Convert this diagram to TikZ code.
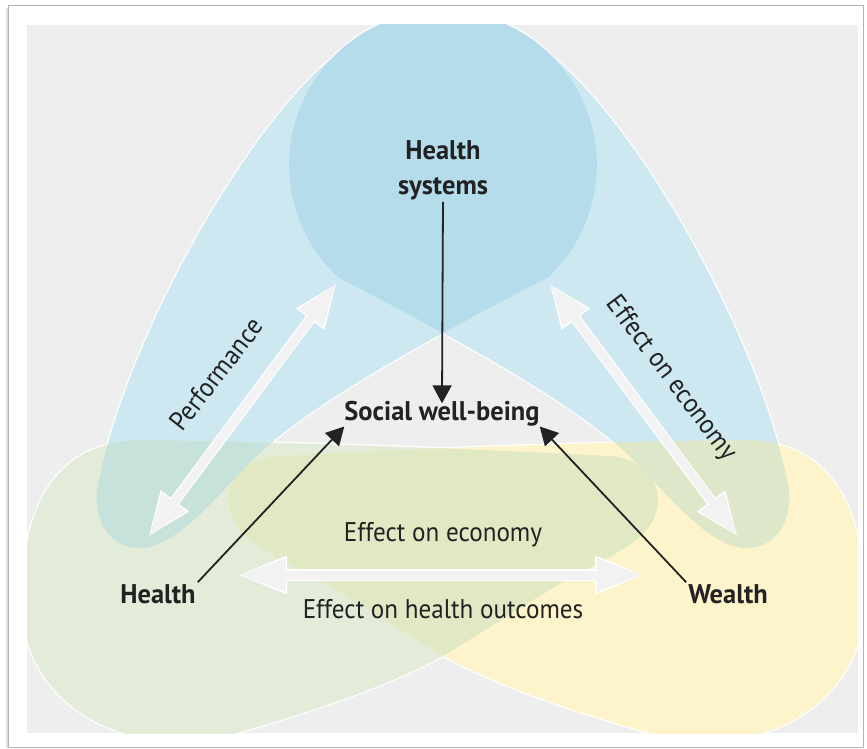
\documentclass[tikz,border=0pt]{standalone}
\usepackage{fontspec}
\setmainfont{PT Sans}
\newfontfamily\lblreg{PT Sans}[FakeStretch=0.93]
\newfontfamily\lblbold{PT Sans}[FakeStretch=0.98]
\usetikzlibrary{arrows.meta}

\definecolor{panelgrey}{HTML}{EEEEEE}
\definecolor{framegrey}{HTML}{B4B4B4}
\definecolor{bluelight}{HTML}{CDE8F1}
\definecolor{bluedark}{HTML}{B4DCEA}
\definecolor{greenlight}{HTML}{E3ECD9}
\definecolor{yellowlight}{HTML}{FEF4CC}
\definecolor{olivemix}{HTML}{E1E9C4}
\definecolor{tealmix}{HTML}{C6E2DB}
\definecolor{bluyellow}{HTML}{DEE7C9}
\definecolor{arrowfill}{HTML}{F3F2F2}
\definecolor{ink}{HTML}{222222}

\newcommand\lblsize{\fontsize{27}{35}\selectfont}

% the two arms of the health-systems shape
\def\armL{(140,548) .. controls (110,548) and (94,522) .. (97,490)
  .. controls (125,340) and (245,130) .. (333,57)
  arc[start angle=224.5, end angle=406.6, radius=154]
  .. controls (470,318) and (330,390) .. (263,450)
  .. controls (225,485) and (180,548) .. (140,548) -- cycle}
\def\armR{(746,548) .. controls (776,548) and (792,522) .. (789,490)
  .. controls (761,340) and (641,130) .. (553,57)
  arc[start angle=315.5, end angle=133.4, radius=154]
  .. controls (416,318) and (556,390) .. (623,450)
  .. controls (661,485) and (706,548) .. (746,548) -- cycle}
% health and wealth blobs
\def\healthblob{(22,600) .. controls (22,500) and (60,442) .. (140,440)
  .. controls (300,442) and (500,450) .. (608,456)
  .. controls (650,458) and (665,490) .. (655,515)
  .. controls (645,545) and (600,560) .. (553,588)
  .. controls (500,620) and (470,640) .. (443,656)
  .. controls (380,690) and (300,715) .. (230,735)
  .. controls (150,760) and (22,720) .. (22,600) -- cycle}
\def\wealthblob{(864,600) .. controls (864,500) and (826,442) .. (746,440)
  .. controls (586,442) and (386,450) .. (278,456)
  .. controls (236,458) and (221,490) .. (231,515)
  .. controls (241,545) and (286,560) .. (333,588)
  .. controls (386,620) and (416,640) .. (443,656)
  .. controls (506,690) and (586,715) .. (656,735)
  .. controls (736,760) and (864,720) .. (864,600) -- cycle}

\tikzset{
  lbl/.style={text=ink, inner sep=2pt, font=\lblsize\lblreg, align=center},
  boldlbl/.style={lbl, font=\lblsize\lblbold\bfseries},
  rim/.style={draw=white, line width=2.4pt},
  softarrow/.style={draw=arrowfill, line width=8pt,
    shorten <=1.5pt, shorten >=1.5pt,
    arrows={Triangle[length=42pt,width=28pt]-Triangle[length=42pt,width=28pt]},
    preaction={draw=white, line width=10.5pt, shorten <=0pt, shorten >=0pt,
      arrows={Triangle[length=45pt,width=32pt]-Triangle[length=45pt,width=32pt]}}},
  widesoftarrow/.style={softarrow, line width=9pt,
    arrows={Triangle[length=46pt,width=31pt]-Triangle[length=46pt,width=31pt]},
    preaction={draw=white, line width=11.5pt, shorten <=0pt, shorten >=0pt,
      arrows={Triangle[length=49pt,width=35pt]-Triangle[length=49pt,width=35pt]}}},
  blackarrow/.style={draw=ink, line width=1.8pt,
    arrows={-Triangle[length=18pt,width=19pt]}},
}

\begin{document}
\begin{tikzpicture}[x=1pt, y=-1pt]
\useasboundingbox (0,0) rectangle (867,749);
\fill[white] (0,0) rectangle (867,749);
% page frame with a soft shadow
\draw[black!12, line width=2pt] (7,8) -- (7,748);
\draw[framegrey, line width=1pt] (8,6) rectangle (863,747);
\fill[panelgrey] (27,25) rectangle (858,733);

\begin{scope}
  \clip (27,25) rectangle (858,733);
  % white rims, mostly covered by the fills below
  \path[rim] \armL;
  \path[rim] \armR;
  \path[rim] \healthblob;
  \path[rim] \wealthblob;
  % health systems
  \fill[bluelight] \armL;
  \fill[bluelight] \armR;
  \begin{scope}
    \clip \armL;
    \fill[bluedark] \armR;
  \end{scope}
  % health and wealth
  \fill[greenlight] \healthblob;
  \fill[yellowlight] \wealthblob;
  \begin{scope}
    \clip \healthblob;
    \fill[olivemix] \wealthblob;
  \end{scope}
  \begin{scope}
    \clip \healthblob;
    \fill[tealmix] \armL;
  \end{scope}
  \begin{scope}
    \clip \wealthblob;
    \fill[bluyellow] \armR;
  \end{scope}
\end{scope}

% labels
\node[boldlbl] (hs) at (443,170) {Health\\systems};
\node[boldlbl] (swb) at (442,414) {Social well-being};
\node[boldlbl] (health) at (158,594) {Health};
\node[boldlbl] (wealth) at (728,594) {Wealth};
\node[lbl] (econ) at (443,535) {Effect on economy};
\node[lbl] (hout) at (443,609) {Effect on health outcomes};
\node[lbl, rotate=52] (perf) at (216,374) {Performance};
\node[lbl, rotate=-53] (econside) at (671,379) {Effect on economy};

% two-way links
\coordinate (perfLo) at (148,537);
\coordinate (perfHi) at (337,283);
\coordinate (ecoHi) at (549,283);
\coordinate (ecoLo) at (738,537);
\coordinate (outL) at (238,575);
\coordinate (outR) at (644,575);
\draw[softarrow] (perfLo) -- (perfHi);
\draw[softarrow] (ecoHi) -- (ecoLo);
\draw[widesoftarrow] (outL) -- (outR);

% links into social well-being
\draw[blackarrow, shorten >=-4pt] (hs.south) -- (swb.north);
\draw[blackarrow, shorten >=-3pt] (health.north east) -- (swb.south west);
\draw[blackarrow, shorten >=-3pt] (wealth.north west) -- (swb.south east);
\end{tikzpicture}
\end{document}
